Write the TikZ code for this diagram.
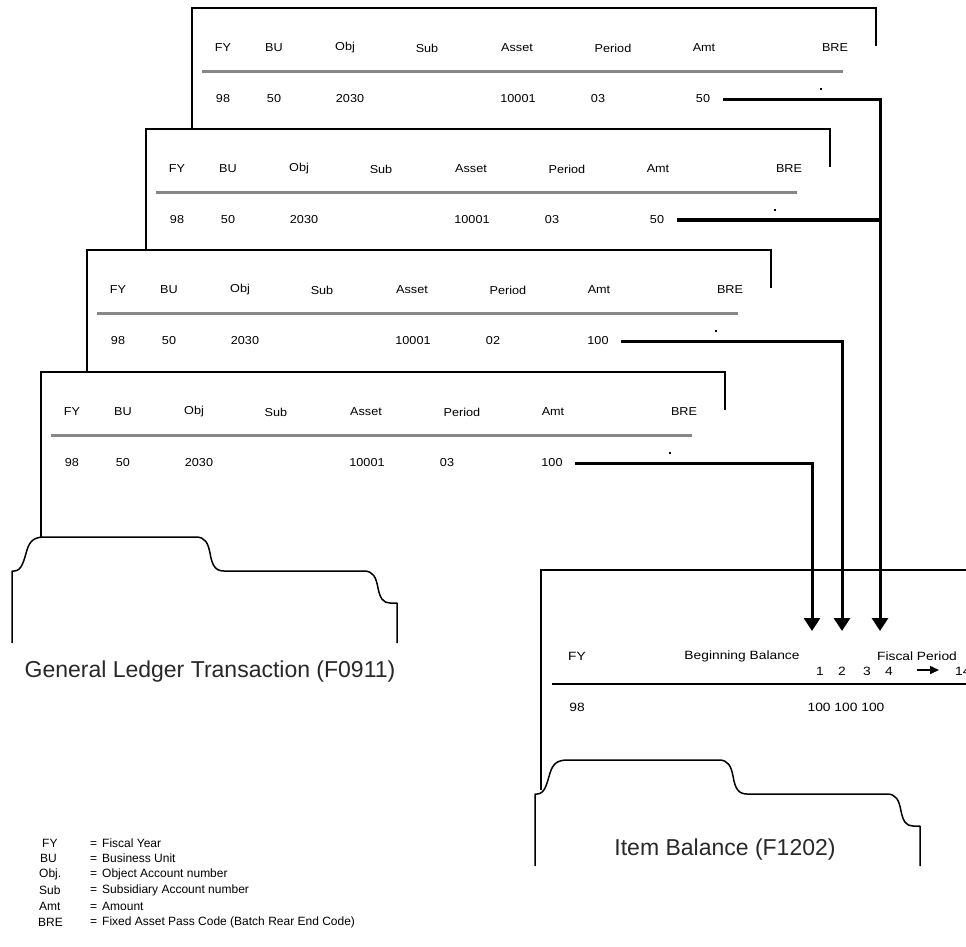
\documentclass[tikz,border=0pt]{standalone}
\usepackage{fontspec}
\setmainfont{Liberation Sans}
\newfontfamily\cardfont[FakeStretch=1.1]{Liberation Sans}
\newfontfamily\itemfont[FakeStretch=1.15]{Liberation Sans}
\usetikzlibrary{arrows.meta}
\newcommand{\myTab}[2]{%
  \draw[tabline] (#1,{#2+106}) -- (#1,{#2+34}) -- ({#1+2},{#2+34})
    .. controls ({#1+10},{#2+34}) and ({#1+12},{#2+23}) .. ({#1+15},{#2+13})
    .. controls ({#1+18},{#2+3}) and ({#1+23},{#2}) .. ({#1+33},{#2})
    -- ({#1+184},{#2})
    .. controls ({#1+193},{#2}) and ({#1+196},{#2+6}) .. ({#1+198},{#2+16})
    .. controls ({#1+200},{#2+28}) and ({#1+203},{#2+34}) .. ({#1+212},{#2+34})
    -- ({#1+352},{#2+34})
    .. controls ({#1+361},{#2+34}) and ({#1+364},{#2+40}) .. ({#1+366},{#2+51})
    .. controls ({#1+368},{#2+61}) and ({#1+371},{#2+66}) .. ({#1+378},{#2+66})
    -- ({#1+385},{#2+66}) -- ({#1+385},{#2+106});}
\tikzset{
  cardline/.style={line width=1.3pt, black},
  tabline/.style={line width=1.5pt, black, line join=round},
  sepline/.style={line width=3pt, color={rgb,255:red,135;green,135;blue,135}},
  ctext/.style={inner sep=0pt, font=\cardfont\fontsize{11.5}{13}\selectfont},
  itext/.style={inner sep=0pt, font=\itemfont\fontsize{12}{14}\selectfont},
  lgd/.style={inner sep=0pt, anchor=west, font=\fontsize{12}{14}\selectfont},
  title/.style={inner sep=0pt, font=\fontsize{23}{27}\selectfont, text={rgb,255:red,40;green,40;blue,40}},
  conn/.style={line width=3pt, line join=miter},
  connthick/.style={line width=4.5pt},
  tip/.style={-{Triangle[width=16pt,length=13pt]}},
  bremark/.style={fill=black, inner sep=0pt, minimum width=2.5pt, minimum height=2pt}
}
\begin{document}
\begin{tikzpicture}[x=1pt,y=-1pt]
\clip (0,0) rectangle (966,946);
\fill[white] (0,0) rectangle (966,946);

% ledger cards
\foreach \k/\L/\T/\nxt/\per/\amt in {1/192/8/129/03/50, 2/146/129/250/03/50, 3/87/250/372/02/100, 4/41/372/537/03/100}{
  \draw[cardline] (\L,\nxt) -- (\L,\T) -- ({\L+684},\T) -- ({\L+684},{\T+38});
  \node[ctext] (h\k-fy) at ({\L+31},{\T+40}) {FY};
  \node[ctext] (h\k-bu) at ({\L+82},{\T+40}) {BU};
  \node[ctext] (h\k-obj) at ({\L+153},{\T+40}) {Obj};
  \node[ctext] (h\k-sub) at ({\L+235},{\T+40}) {Sub};
  \node[ctext] (h\k-asset) at ({\L+325},{\T+40}) {Asset};
  \node[ctext] (h\k-per) at ({\L+421},{\T+40}) {Period};
  \node[ctext] (h\k-amt) at ({\L+512},{\T+40}) {Amt};
  \node[ctext] (h\k-bre) at ({\L+643},{\T+40}) {BRE};
  \draw[sepline] ({\L+10},{\T+63}) -- ({\L+651},{\T+63});
  \node[ctext] (v\k-fy) at ({\L+31},{\T+91}) {98};
  \node[ctext] (v\k-bu) at ({\L+82},{\T+91}) {50};
  \node[ctext] (v\k-obj) at ({\L+158},{\T+91}) {2030};
  \node[ctext] (v\k-asset) at ({\L+326},{\T+91}) {10001};
  \node[ctext] (v\k-per) at ({\L+406},{\T+91}) {\per};
  \node[ctext] (a\k) at ({\L+511},{\T+91}) {\amt};
  \node[bremark] (d\k) at ({\L+629},{\T+81}) {};
}

% folder tab of ledger
\draw[cardline] (41,372) -- (41,537);
\myTab{12}{537}
\node[title] (gltitle) at (210,672) {General Ledger Transaction (F0911)};

% item balance card
\draw[cardline] (541,790) -- (541,570) -- (970,570);
\myTab{535}{760}
\node[itext] (ifY) at (577,656) {FY};
\node[itext] (ibb) at (742,656) {Beginning Balance};
\node[itext] (ifp) at (917,656) {Fiscal Period};
\node[itext] (p1) at (820,671) {1};
\node[itext] (p2) at (842,671) {2};
\node[itext] (p3) at (867,671) {3};
\node[itext] (p4) at (889,671) {4};
\node[itext, anchor=west] (p14) at (955,671) {14};
\coordinate (ar1) at (917,670);
\coordinate (ar2) at (939,670);
\draw[line width=1.5pt, -{Triangle[width=8pt,length=9pt]}] (ar1) -- (ar2);
\draw[line width=1.4pt] (552,684) -- (970,684);
\node[itext] (i98) at (577,707) {98};
\node[itext] (i100) at (846,707) {100 100 100};
\node[title] (ibtitle) at (725,850) {Item Balance (F1202)};

% connectors
\coordinate (in1) at (812,631);
\coordinate (in2) at (842,631);
\coordinate (in3) at (880,631);
\draw[conn, tip] ([xshift=13pt]a1.east) -| (in3);
\draw[connthick] ([xshift=13pt]a2.east) -- (a2.east -| in3);
\draw[conn, tip] ([xshift=12pt]a3.east) -| (in2);
\draw[conn, tip] ([xshift=12pt]a4.east) -| (in1);

% legend
\node[lgd] (lfy) at (42,843) {FY};
\node[lgd] (lbu) at (40,858) {BU};
\node[lgd] (lobj) at (39,874) {Obj.};
\node[lgd] (lsub) at (39,890) {Sub};
\node[lgd] (lamt) at (39,906) {Amt};
\node[lgd] (lbre) at (38,922) {BRE};
\node[lgd] (dfy) at (90,843) {=\hspace{5pt}Fiscal Year};
\node[lgd] (dbu) at (90,858) {=\hspace{5pt}Business Unit};
\node[lgd] (dobj) at (90,874) {=\hspace{5pt}Object Account number};
\node[lgd] (dsub) at (90,890) {=\hspace{5pt}Subsidiary Account number};
\node[lgd] (damt) at (90,906) {=\hspace{5pt}Amount};
\node[lgd] (dbre) at (90,922) {=\hspace{5pt}Fixed Asset Pass Code (Batch Rear End Code)};
\end{tikzpicture}
\end{document}
